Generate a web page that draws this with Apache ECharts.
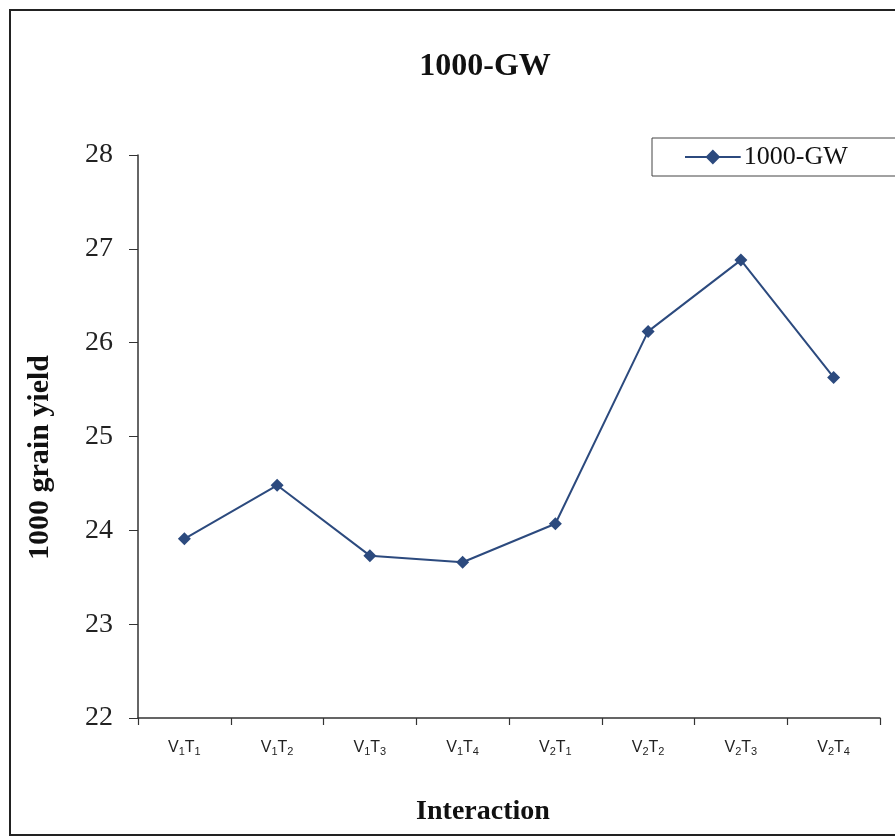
<!DOCTYPE html>
<html><head><meta charset="utf-8">
<script src="https://cdn.jsdelivr.net/npm/echarts@6/dist/echarts.min.js"></script>
<style>html,body{margin:0;padding:0;background:#fff}#c{width:895px;height:838px}</style>
</head><body><div id="c"></div>
<script>
var categories = ['V1T1','V1T2','V1T3','V1T4','V2T1','V2T2','V2T3','V2T4'];
var values = [23.91, 24.48, 23.73, 23.66, 24.07, 26.12, 26.88, 25.63];
var seriesName = '1000-GW';
var yTicks = [22, 23, 24, 25, 26, 27, 28];

var serif = '"Liberation Serif","Times New Roman",serif';
var chart = echarts.init(document.getElementById('c'));
chart.setOption({
  backgroundColor: '#fff',
  animation: false,
  title: {
    text: '1000-GW', left: 480, top: 46, textAlign: 'center',
    textStyle: {fontFamily: serif, fontWeight: 'bold', fontSize: 32, color: '#111'}
  },
  graphic: [{
    type: 'rect', shape: {x: 10, y: 10, width: 900, height: 825},
    style: {fill: null, stroke: '#222', lineWidth: 2}, silent: true
  }],
  legend: {
    data: [{name: seriesName, icon: 'path://M0,6 L20,6 L26,0 L32,6 L52,6 L52,8 L32,8 L26,14 L20,8 L0,8 Z'}],
    left: 652, top: 138,
    borderColor: '#444', borderWidth: 1, padding: [6, 60, 6, 33],
    itemWidth: 56, itemHeight: 15, itemGap: 4,
    textStyle: {fontFamily: serif, fontSize: 26, color: '#111', padding: [0,0,0,-2]}
  },
  grid: {left: 138, right: 15, top: 155, bottom: 120},
  xAxis: {
    type: 'category', data: categories, boundaryGap: true,
    name: 'Interaction', nameLocation: 'middle', nameGap: 80,
    nameTextStyle: {fontFamily: serif, fontWeight: 'bold', fontSize: 28, color: '#111', padding: [0, 52, 0, 0]},
    axisLine: {lineStyle: {color: '#333', width: 1.5}},
    axisTick: {show: true, alignWithLabel: false, length: 7, lineStyle: {color: '#333', width: 1.2}},
    axisLabel: {
      margin: 20, interval: 0,
      formatter: function (v) { return v[0] + '{s|' + v[1] + '}' + v[2] + '{s|' + v[3] + '}'; },
      fontFamily: '"Liberation Sans",sans-serif', fontSize: 16, color: '#222',
      rich: {s: {fontSize: 11, verticalAlign: 'bottom', padding: [8, 0, 0, 0], fontFamily: '"Liberation Sans",sans-serif', color: '#222'}}
    }
  },
  yAxis: {
    type: 'value', min: yTicks[0], max: yTicks[yTicks.length - 1], interval: 1,
    name: '1000 grain yield', nameLocation: 'middle', nameGap: 83, nameRotate: 90,
    nameTextStyle: {fontFamily: serif, fontWeight: 'bold', fontSize: 30, color: '#111', padding: [0, 42, 0, 0]},
    axisLine: {show: true, lineStyle: {color: '#333', width: 1.5}},
    axisTick: {show: true, length: 9, lineStyle: {color: '#333'}},
    splitLine: {show: false},
    axisLabel: {margin: 25, fontFamily: serif, fontSize: 28, color: '#222'}
  },
  series: [{
    name: seriesName, type: 'line', data: values,
    symbol: 'diamond', symbolSize: 13,
    lineStyle: {color: '#2c4a7e', width: 2},
    itemStyle: {color: '#2c4a7e'}
  }]
});
</script></body></html>
